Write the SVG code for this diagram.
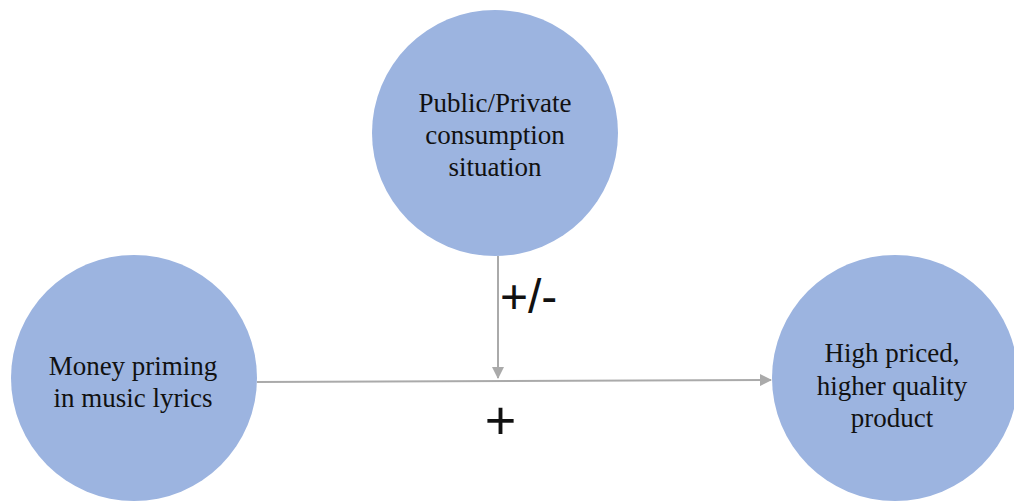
<svg xmlns="http://www.w3.org/2000/svg" width="1014" height="501" viewBox="0 0 1014 501">
<defs>
<style>
.node{fill:#9cb4e0;}
.lbl{font-family:"Liberation Serif","Times New Roman",serif;font-size:27px;fill:#111;text-anchor:middle;}
.sign{font-family:"Liberation Sans",Arial,sans-serif;fill:#111;}
.conn{stroke:#aaaaaa;stroke-width:2;fill:none;}
</style>
<marker id="arr" markerWidth="12" markerHeight="12" refX="11" refY="6" orient="auto" markerUnits="userSpaceOnUse">
<path d="M0,0 L12,6 L0,12 Z" fill="#aaaaaa"/>
</marker>
</defs>
<rect width="1014" height="501" fill="#ffffff"/>
<g id="connectors">
<path class="conn" d="M257,382 L771,380" marker-end="url(#arr)"/>
<path class="conn" d="M498,256 L498,378" marker-end="url(#arr)"/>
<text class="sign" x="500" y="313" font-size="48">+/-</text>
<text class="sign" x="500.5" y="439" font-size="54" text-anchor="middle">+</text>
</g>
<g id="node-public">
<circle class="node" cx="495" cy="133" r="123"/>
<text class="lbl" x="495" y="112">Public/Private</text>
<text class="lbl" x="495" y="144">consumption</text>
<text class="lbl" x="495" y="176">situation</text>
</g>
<g id="node-money">
<circle class="node" cx="134" cy="378" r="123"/>
<text class="lbl" x="133" y="375">Money priming</text>
<text class="lbl" x="133" y="407">in music lyrics</text>
</g>
<g id="node-product">
<circle class="node" cx="895" cy="378" r="123"/>
<text class="lbl" x="892" y="362">High priced,</text>
<text class="lbl" x="892" y="395">higher quality</text>
<text class="lbl" x="892" y="427">product</text>
</g>
</svg>
